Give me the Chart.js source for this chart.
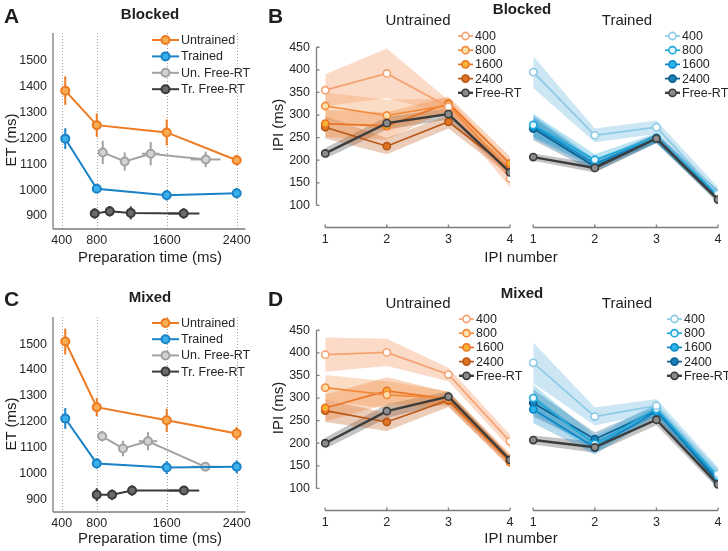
<!DOCTYPE html>
<html>
<head>
<meta charset="utf-8">
<script src="https://cdn.jsdelivr.net/npm/chart.js@4.4.1/dist/chart.umd.min.js"></script>
<style>
  body { margin: 0; background: #fff; width: 728px; height: 551px; position: relative; overflow: hidden;
         font-family: "Liberation Sans", Arial, Helvetica, sans-serif; color: #1e1e1e; }
  canvas { position: absolute; }
  .t { position: absolute; transform: translate(-50%, -50%); white-space: nowrap; font-size: 15px; line-height: 1; }
  .b { font-weight: bold; }
  .L { position: absolute; font-weight: bold; font-size: 21px; line-height: 1; transform: translate(0, -50%); }
  .r { transform: translate(-50%, -50%) rotate(-90deg); }
</style>
</head>
<body>
<canvas id="chartA" width="255" height="270" style="left:0;top:0"></canvas>
<canvas id="chartBU" width="280" height="270" style="left:250px;top:0"></canvas>
<canvas id="chartBT" width="213" height="270" style="left:515px;top:0"></canvas>
<canvas id="chartC" width="255" height="270" style="left:0;top:280px"></canvas>
<canvas id="chartDU" width="280" height="270" style="left:250px;top:280px"></canvas>
<canvas id="chartDT" width="213" height="270" style="left:515px;top:280px"></canvas>

<div class="L" style="left:4px;top:15px">A</div>
<div class="t b" style="left:150px;top:13px">Blocked</div>
<div class="t r" style="left:10px;top:140px">ET (ms)</div>
<div class="t" style="left:150px;top:256px">Preparation time (ms)</div>

<div class="L" style="left:268px;top:15px">B</div>
<div class="t b" style="left:522px;top:8px">Blocked</div>
<div class="t" style="left:418px;top:19px">Untrained</div>
<div class="t" style="left:627px;top:19px">Trained</div>
<div class="t r" style="left:277px;top:125px">IPI (ms)</div>
<div class="t" style="left:521px;top:256px">IPI number</div>

<div class="L" style="left:4px;top:298px">C</div>
<div class="t b" style="left:150px;top:296px">Mixed</div>
<div class="t r" style="left:10px;top:424px">ET (ms)</div>
<div class="t" style="left:150px;top:537px">Preparation time (ms)</div>

<div class="L" style="left:268px;top:298px">D</div>
<div class="t b" style="left:522px;top:292px">Mixed</div>
<div class="t" style="left:418px;top:302px">Untrained</div>
<div class="t" style="left:627px;top:302px">Trained</div>
<div class="t r" style="left:277px;top:408px">IPI (ms)</div>
<div class="t" style="left:521px;top:537px">IPI number</div>

<script>
// ---------- execution time vs preparation time (A, C) ----------
const prepTicks = [400, 800, 1600, 2400];
const etTicks = [900, 1000, 1100, 1200, 1300, 1400, 1500];
const prepX = [440, 800, 1600, 2400];
const etLabels = ["Untrained", "Trained", "Un. Free-RT", "Tr. Free-RT"];

const blockedUntrained = [1383, 1250, 1222, 1115];
const blockedUntrainedErr = [55, 45, 50, 20];
const blockedTrained = [1198, 1005, 980, 988];
const blockedTrainedErr = [40, 15, 20, 20];
const blockedUnFreeX = [869, 1120, 1417, 2046];
const blockedUnFreeXErr = [15, 25, 100, 170];
const blockedUnFree = [1145, 1110, 1140, 1118];
const blockedUnFreeErr = [45, 35, 45, 30];
const blockedTrFreeX = [777, 949, 1189, 1794];
const blockedTrFreeXErr = [10, 15, 20, 180];
const blockedTrFree = [910, 918, 912, 910];
const blockedTrFreeErr = [20, 20, 25, 20];

const mixedUntrained = [1510, 1256, 1205, 1154];
const mixedUntrainedErr = [50, 35, 45, 25];
const mixedTrained = [1212, 1038, 1022, 1025];
const mixedTrainedErr = [40, 20, 25, 25];
const mixedUnFreeX = [862, 1100, 1386, 2042];
const mixedUnFreeXErr = [15, 30, 105, 160];
const mixedUnFree = [1143, 1096, 1124, 1025];
const mixedUnFreeErr = [20, 30, 35, 15];
const mixedTrFreeX = [800, 975, 1204, 1797];
const mixedTrFreeXErr = [10, 15, 30, 175];
const mixedTrFree = [917, 917, 933, 933];
const mixedTrFreeErr = [25, 20, 20, 10];

// ---------- inter-press intervals (B, D) ----------
const ipiNumbers = [1, 2, 3, 4];
const ipiTicks = [100, 150, 200, 250, 300, 350, 400, 450];
const prepLabels = ["400", "800", "1600", "2400", "Free-RT"];

// rows: 400, 800, 1600, 2400, Free-RT
const blockedUntrainedIPI = [
  [355, 392, 318, 160],
  [320, 299, 322, 175],
  [281, 276, 326, 193],
  [273, 231, 285, 180],
  [215, 282, 302, 173]
];
const blockedUntrainedSE = [
  [35, 55, 15, 20],
  [30, 35, 15, 15],
  [30, 30, 15, 15],
  [25, 18, 15, 15],
  [12, 14, 12, 10]
];
const blockedTrainedIPI = [
  [395, 255, 273, 125],
  [278, 201, 250, 122],
  [275, 192, 248, 120],
  [270, 186, 248, 122],
  [207, 183, 248, 113]
];
const blockedTrainedSE = [
  [35, 15, 15, 15],
  [25, 12, 10, 12],
  [25, 10, 10, 12],
  [25, 12, 10, 12],
  [8, 10, 10, 8]
];
const mixedUntrainedIPI = [
  [396, 401, 352, 204],
  [323, 307, 300, 165],
  [278, 316, 298, 158],
  [272, 247, 295, 160],
  [200, 271, 303, 163]
];
const mixedUntrainedSE = [
  [38, 30, 15, 15],
  [28, 30, 15, 12],
  [30, 30, 15, 12],
  [25, 20, 15, 12],
  [12, 15, 12, 8]
];
const mixedTrainedIPI = [
  [378, 259, 283, 132],
  [300, 198, 276, 127],
  [275, 190, 270, 120],
  [289, 209, 272, 115],
  [207, 191, 252, 109]
];
const mixedTrainedSE = [
  [45, 20, 15, 15],
  [30, 18, 12, 15],
  [30, 15, 12, 15],
  [30, 15, 12, 15],
  [10, 12, 12, 10]
];

const etLine = ["#ee7a21", "#1a82c6", "#a2a2a2", "#3a3a3a"];
const etFill = ["#f8ad55", "#3cb0ea", "#d2d2d2", "#6a6a6a"];
const orangeLine = ["#f5a271", "#f28a3c", "#ea7424", "#b95615", "#3c3c3c"];
const orangeFill = ["#ffffff", "#fce0a8", "#f9b233", "#dc7426", "#8c8c8c"];
const orangeBand = ["rgba(245,160,110,0.38)", "rgba(242,138,60,0.3)", "rgba(235,115,35,0.3)",
                    "rgba(190,88,22,0.3)", "rgba(70,70,70,0.32)"];
const blueLine = ["#8ccae6", "#1fa7d9", "#0b87c6", "#0b5e8c", "#3c3c3c"];
const blueFill = ["#ffffff", "#e4f5fc", "#2db4ea", "#1a80b8", "#8c8c8c"];
const blueBand = ["rgba(120,190,225,0.38)", "rgba(30,165,215,0.3)", "rgba(10,130,195,0.3)",
                  "rgba(10,90,140,0.32)", "rgba(70,70,70,0.32)"];

const ink = "#262626";
const axisGray = "#7c7c7c";
const font = "Liberation Sans, Arial, Helvetica, sans-serif";

function pts(xs, ys) {
  return xs.map((x, i) => ({ x: x, y: ys[i] }));
}

function seg(ctx, x1, y1, x2, y2) {
  ctx.beginPath();
  ctx.moveTo(x1, y1);
  ctx.lineTo(x2, y2);
  ctx.stroke();
}

// offset axes of the IPI panels, drawn on top of everything
function drawIpiAxes(chart, showY) {
  const ctx = chart.ctx, a = chart.chartArea;
  const xs = chart.scales.x, ys = chart.scales.y;
  ctx.save();
  ctx.strokeStyle = axisGray;
  ctx.lineWidth = 1.3;
  ctx.setLineDash([]);
  const y0 = Math.round(a.bottom) - 0.5;
  const xa = xs.getPixelForValue(ipiNumbers[0]);
  const xb = xs.getPixelForValue(ipiNumbers[ipiNumbers.length - 1]);
  ctx.beginPath();
  ctx.moveTo(xa, y0);
  ctx.lineTo(xb, y0);
  ipiNumbers.forEach(v => {
    const px = xs.getPixelForValue(v);
    ctx.moveTo(px, y0);
    ctx.lineTo(px, y0 - 3);
  });
  ctx.stroke();
  if (showY) {
    const x0 = Math.round(a.left) + 0.5;
    ctx.beginPath();
    ctx.moveTo(x0, ys.getPixelForValue(ipiTicks[0]));
    ctx.lineTo(x0, ys.getPixelForValue(ipiTicks[ipiTicks.length - 1]));
    ipiTicks.forEach(v => {
      const py = ys.getPixelForValue(v);
      ctx.moveTo(x0, py);
      ctx.lineTo(x0 + 3, py);
    });
    ctx.stroke();
  }
  ctx.restore();
}

// dotted guides, error bars and the in-plot legend
const decor = {
  id: "decor",
  beforeDatasetsDraw(chart, args, o) {
    const ctx = chart.ctx, a = chart.chartArea;
    const xs = chart.scales.x, ys = chart.scales.y;
    ctx.save();
    if (o.dotted) {
      ctx.strokeStyle = "#a0a0a0";
      ctx.lineWidth = 1;
      ctx.setLineDash([1, 2]);
      o.dotted.forEach(v => {
        const px = Math.round(xs.getPixelForValue(v)) + 0.5;
        seg(ctx, px, a.top, px, a.bottom);
      });
      ctx.setLineDash([]);
    }
    ctx.strokeStyle = axisGray;
    ctx.lineWidth = 1.3;
    if (o.box) {
      seg(ctx, a.left, a.top, a.left, a.bottom);
      seg(ctx, a.left, a.bottom, a.right, a.bottom);
    }
    chart.data.datasets.forEach(d => {
      if (!d.yErr) return;
      ctx.strokeStyle = d.borderColor;
      ctx.lineWidth = 2;
      d.data.forEach((p, j) => {
        const px = xs.getPixelForValue(p.x), py = ys.getPixelForValue(p.y);
        seg(ctx, px, ys.getPixelForValue(p.y - d.yErr[j]), px, ys.getPixelForValue(p.y + d.yErr[j]));
        const ex = d.xErr ? d.xErr[j] : 0;
        if (ex) seg(ctx, xs.getPixelForValue(p.x - ex), py, xs.getPixelForValue(p.x + ex), py);
      });
    });
    ctx.restore();
  },
  afterDraw(chart, args, o) {
    if (o.ipiAxes) drawIpiAxes(chart, o.showY);
    const lg = o.legend;
    if (!lg) return;
    const ctx = chart.ctx;
    ctx.save();
    ctx.font = "12.5px " + font;
    ctx.textBaseline = "middle";
    ctx.fillStyle = ink;
    chart.data.datasets.filter(d => d.inLegend).forEach((d, i) => {
      const y = lg.y + i * lg.dy;
      ctx.strokeStyle = d.borderColor;
      ctx.lineWidth = d.borderWidth;
      seg(ctx, lg.x, y, lg.x + lg.len, y);
      ctx.beginPath();
      ctx.arc(lg.x + lg.len / 2, y, d.pointRadius, 0, Math.PI * 2);
      ctx.fillStyle = d.pointBackgroundColor;
      ctx.fill();
      ctx.lineWidth = d.pointBorderWidth;
      ctx.stroke();
      ctx.fillStyle = ink;
      ctx.fillText(d.label, lg.x + lg.len + 2, y + 0.5);
    });
    ctx.restore();
  }
};

function scaleOpts(min, max, ticks, size, isX, show) {
  return {
    type: "linear",
    min: min,
    max: max,
    display: show,
    grid: { display: false, drawTicks: false },
    border: { display: false },
    ticks: {
      color: ink,
      font: { family: font, size: 12.5 },
      padding: isX ? 4 : 6,
      maxRotation: 0,
      autoSkip: false,
      callback: v => String(v)
    },
    afterBuildTicks: s => { s.ticks = ticks.map(v => ({ value: v })); },
    afterFit: s => { if (isX) s.height = size; else s.width = size; }
  };
}

function etChart(id, padTop, xHeight, series, legendY, legendDy) {
  const datasets = series.map((s, i) => ({
    label: etLabels[i],
    data: pts(s.x, s.y),
    yErr: s.yErr,
    xErr: s.xErr,
    borderColor: etLine[i],
    pointBackgroundColor: etFill[i],
    pointBorderColor: etLine[i],
    pointRadius: 4,
    pointBorderWidth: 2,
    borderWidth: 2,
    fill: false,
    inLegend: true
  }));
  new Chart(document.getElementById(id), {
    type: "line",
    data: { datasets: datasets },
    options: {
      responsive: false,
      animation: false,
      events: [],
      layout: { padding: { top: padTop, right: 9, left: 0, bottom: 0 } },
      plugins: {
        legend: { display: false },
        tooltip: { enabled: false },
        decor: { dotted: prepTicks, box: true, legend: { x: 152, y: legendY, dy: legendDy, len: 27 } }
      },
      scales: {
        x: scaleOpts(300, 2500, prepTicks, xHeight, true, true),
        y: scaleOpts(850, 1605, etTicks, 53, false, true)
      }
    },
    plugins: [decor]
  });
}

function ipiChart(id, padTop, xHeight, means, ses, lines, fills, bands, showY, padLeft, padRight, legend) {
  const datasets = means.map((m, i) => ({
    label: prepLabels[i],
    data: pts(ipiNumbers, m),
    borderColor: lines[i],
    pointBackgroundColor: fills[i],
    pointBorderColor: lines[i],
    pointRadius: 3.6,
    pointBorderWidth: 1.6,
    borderWidth: i === 4 ? 2.4 : 1.7,
    fill: false,
    order: i === 4 ? -1 : 0,
    inLegend: true
  }));
  means.forEach((m, i) => {
    datasets.push({
      data: pts(ipiNumbers, m.map((v, j) => v + ses[i][j])),
      borderColor: "rgba(0,0,0,0)", borderWidth: 0, pointRadius: 0, fill: false, order: 1
    });
    datasets.push({
      data: pts(ipiNumbers, m.map((v, j) => v - ses[i][j])),
      borderColor: "rgba(0,0,0,0)", borderWidth: 0, pointRadius: 0,
      fill: "-1", backgroundColor: bands[i], order: 1
    });
  });
  new Chart(document.getElementById(id), {
    type: "line",
    data: { datasets: datasets },
    options: {
      responsive: false,
      animation: false,
      events: [],
      layout: { padding: { top: padTop, right: padRight, left: padLeft, bottom: 0 } },
      plugins: {
        legend: { display: false },
        tooltip: { enabled: false },
        decor: { ipiAxes: true, showY: showY, legend: legend }
      },
      scales: {
        x: scaleOpts(0.85, 4, ipiNumbers, xHeight, true, true),
        y: scaleOpts(50, 455, ipiTicks, showY ? 66 : 0, false, showY)
      }
    },
    plugins: [decor]
  });
}

etChart("chartA", 33, 41, [
  { x: prepX, y: blockedUntrained, yErr: blockedUntrainedErr },
  { x: prepX, y: blockedTrained, yErr: blockedTrainedErr },
  { x: blockedUnFreeX, y: blockedUnFree, yErr: blockedUnFreeErr, xErr: blockedUnFreeXErr },
  { x: blockedTrFreeX, y: blockedTrFree, yErr: blockedTrFreeErr, xErr: blockedTrFreeXErr }
], 40, 16.4);

etChart("chartC", 37, 38, [
  { x: prepX, y: mixedUntrained, yErr: mixedUntrainedErr },
  { x: prepX, y: mixedTrained, yErr: mixedTrainedErr },
  { x: mixedUnFreeX, y: mixedUnFree, yErr: mixedUnFreeErr, xErr: mixedUnFreeXErr },
  { x: mixedTrFreeX, y: mixedTrFree, yErr: mixedTrFreeErr, xErr: mixedTrFreeXErr }
], 43, 16.2);

ipiChart("chartBU", 45, 42, blockedUntrainedIPI, blockedUntrainedSE, orangeLine, orangeFill, orangeBand,
  true, 0, 20, { x: 208, y: 36, dy: 14.2, len: 15 });
ipiChart("chartBT", 45, 42, blockedTrainedIPI, blockedTrainedSE, blueLine, blueFill, blueBand,
  false, 9, 10, { x: 150, y: 36, dy: 14.2, len: 15 });
ipiChart("chartDU", 48, 39, mixedUntrainedIPI, mixedUntrainedSE, orangeLine, orangeFill, orangeBand,
  true, 0, 20, { x: 209, y: 39, dy: 14.2, len: 15 });
ipiChart("chartDT", 48, 39, mixedTrainedIPI, mixedTrainedSE, blueLine, blueFill, blueBand,
  false, 9, 10, { x: 152, y: 39, dy: 14.2, len: 15 });
</script>
</body>
</html>
